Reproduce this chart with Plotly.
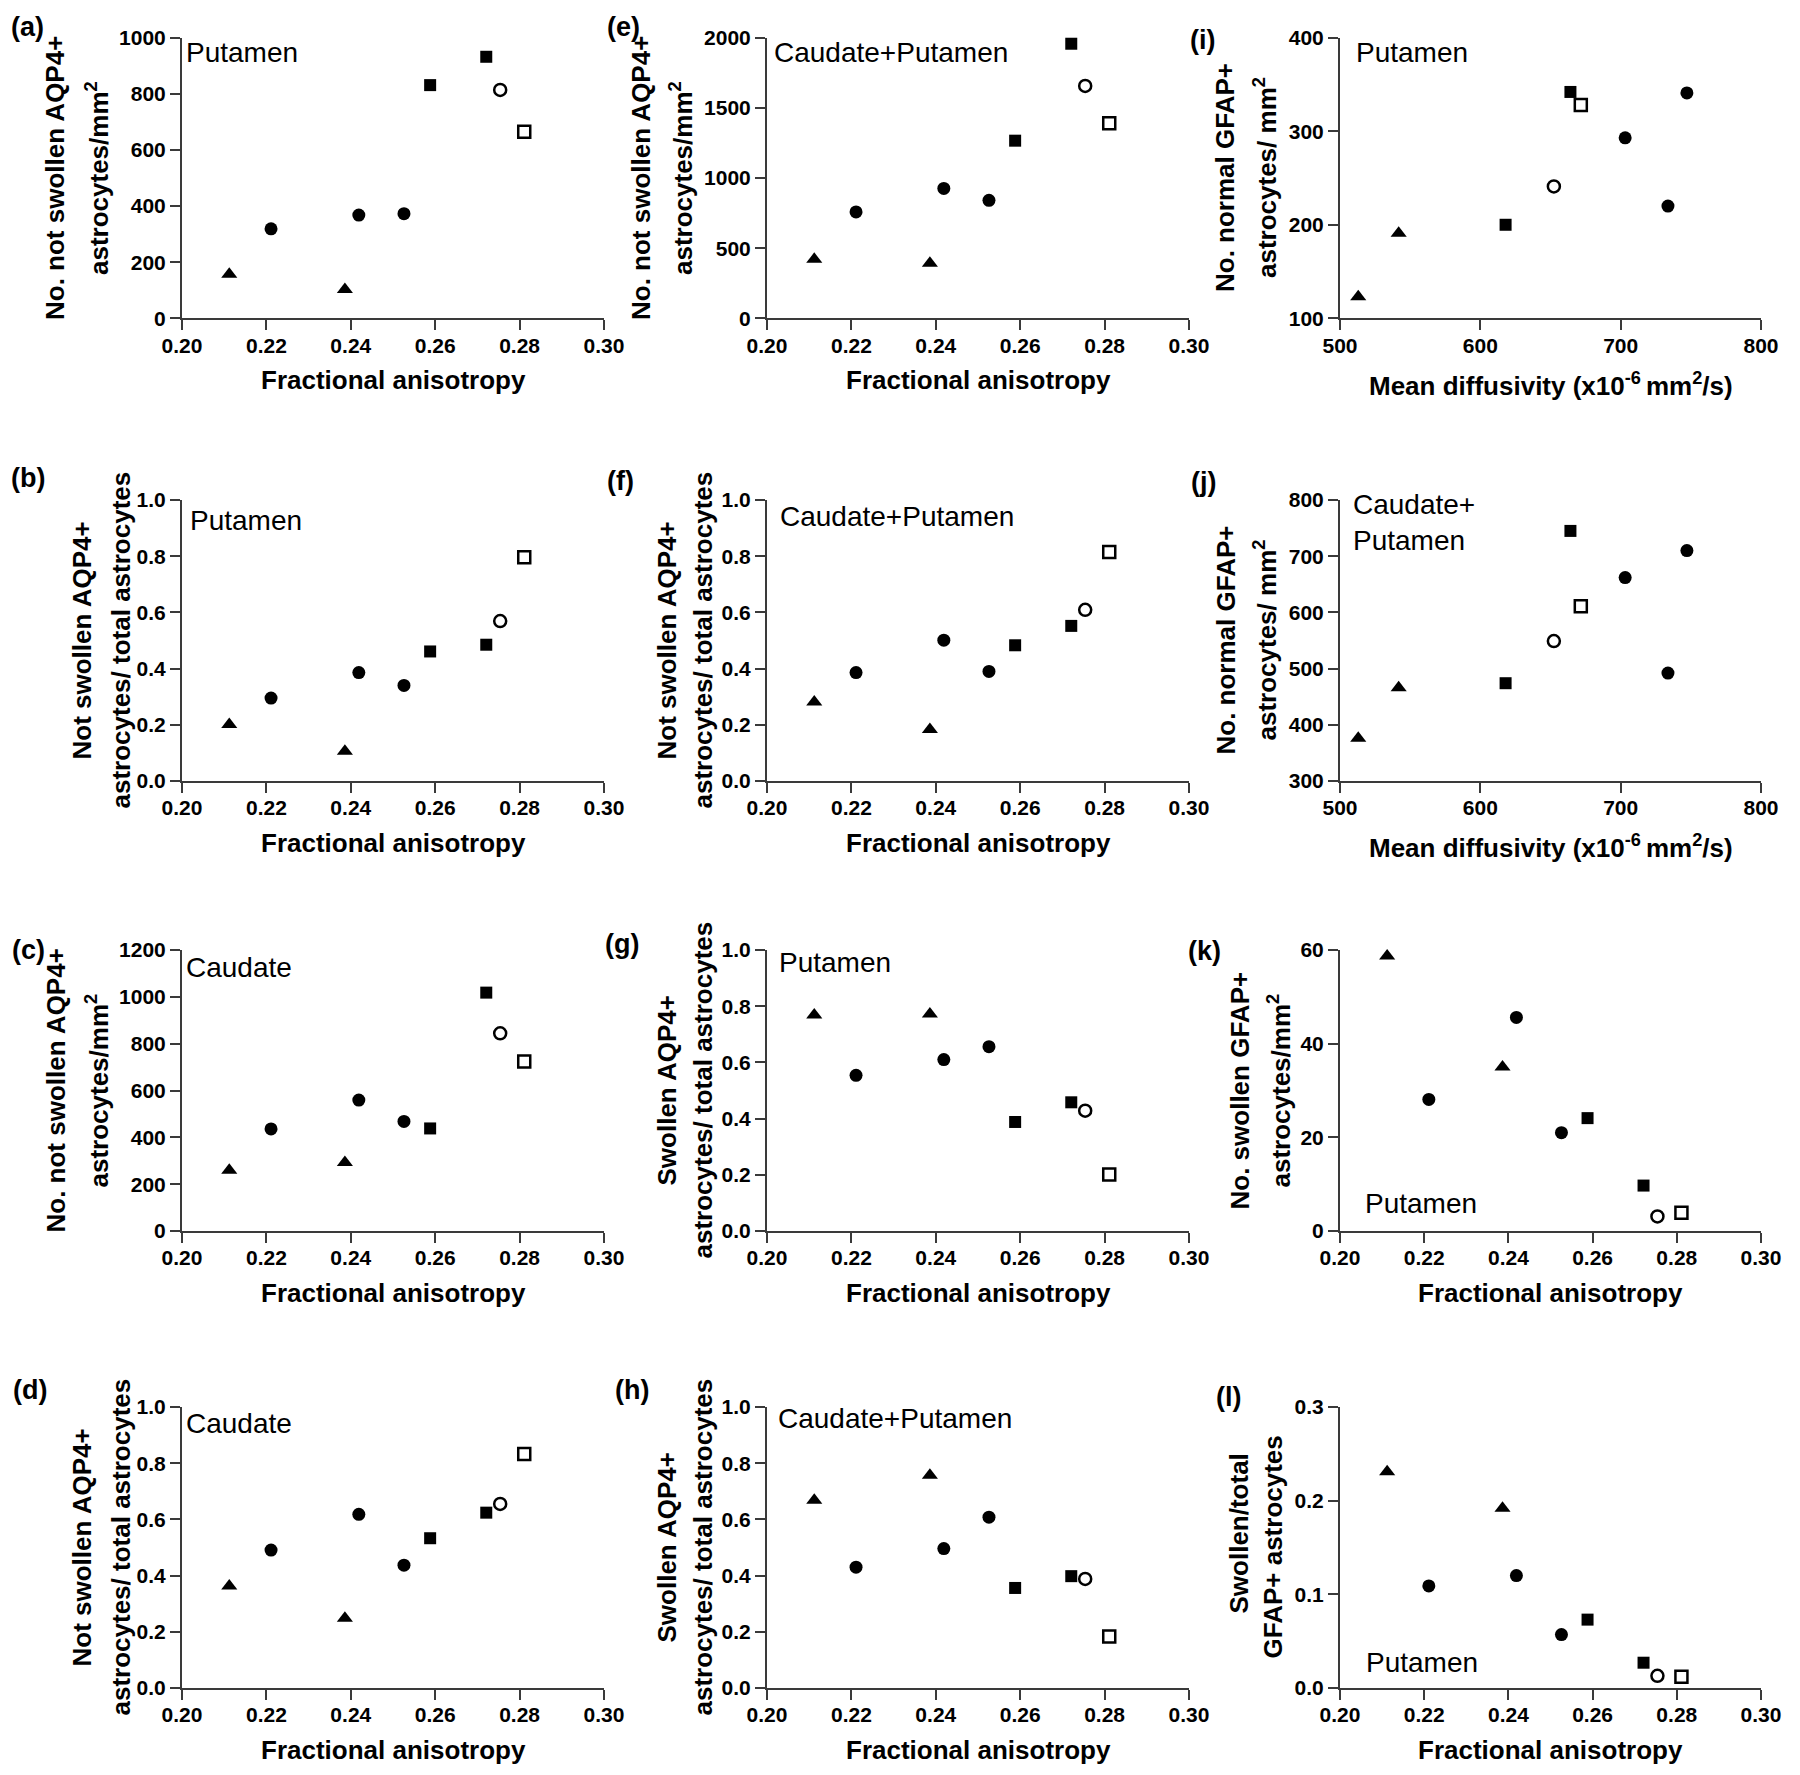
import plotly.graph_objects as go

W, H = 1800, 1775
PAGE_OFFSET = 8  # browser body margin shifts the whole figure; compensate

# ---------------- data (subject order: tri1, tri2, circ1, circ2, circ3, sq1, sq2, open-circ, open-sq)
fa = [0.2112, 0.2386, 0.2211, 0.2419, 0.2526, 0.2588, 0.2721, 0.2754, 0.2811]
md = [513.0, 541.8, 703.2, 733.7, 747.2, 618.0, 664.2, 652.4, 671.6]

a_put_notswollen = [157, 103, 319, 368, 373, 831, 932, 814, 665]
b_put_ratio = [0.201, 0.106, 0.295, 0.386, 0.340, 0.461, 0.485, 0.569, 0.796]
c_cau_notswollen = [259, 292, 436, 559, 468, 438, 1018, 844, 724]
d_cau_ratio = [0.363, 0.248, 0.491, 0.618, 0.437, 0.533, 0.624, 0.655, 0.833]
e_cp_notswollen = [420, 392, 758, 926, 841, 1266, 1957, 1656, 1390]
f_cp_ratio = [0.281, 0.183, 0.386, 0.501, 0.390, 0.483, 0.552, 0.609, 0.815]
g_put_swollen_ratio = [0.769, 0.772, 0.554, 0.610, 0.656, 0.388, 0.458, 0.428, 0.201]
h_cp_swollen_ratio = [0.668, 0.757, 0.430, 0.496, 0.608, 0.356, 0.398, 0.388, 0.183]
i_put_gfap_normal = [123, 191, 293, 220, 341, 200, 342, 241, 328]
j_cp_gfap_normal = [376, 466, 662, 492, 710, 474, 745, 549, 611]
k_put_gfap_swollen = [58.7, 35.0, 28.1, 45.6, 21.0, 24.1, 9.7, 3.1, 3.9]
l_put_gfap_ratio = [0.231, 0.192, 0.109, 0.120, 0.057, 0.073, 0.027, 0.013, 0.012]

groups = {
    "triangle": [0, 1],
    "circle": [2, 3, 4],
    "square": [5, 6],
    "open_circle": [7],
    "open_square": [8],
}

fa_ticks = [0.20, 0.22, 0.24, 0.26, 0.28, 0.30]
md_ticks = [500, 600, 700, 800]

# ---------------- layout geometry (pixels)
cols = {1: (182, 604), 2: (767, 1189), 3: (1340, 1761)}
rows = {1: (37.7, 318.3), 2: (500, 781), 3: (950, 1231), 4: (1407, 1688)}

FA_T = "Fractional anisotropy"
MD_T = "Mean diffusivity (x10<sup>-6 </sup>mm<sup>2</sup>/s)"

panels = [
    dict(lab="(a)", col=1, row=1, x=fa, y=a_put_notswollen, xr=[0.2, 0.3], yr=[0, 1000], yd=200, yf="d",
         yt=["No. not swollen AQP4+", "astrocytes/mm<sup>2</sup>"], yo=(-127, -84),
         reg="Putamen", rp=(184, 53), lp=(27, 21), xt=FA_T),
    dict(lab="(b)", col=1, row=2, x=fa, y=b_put_ratio, xr=[0.2, 0.3], yr=[0, 1], yd=0.2, yf=".1f",
         yt=["Not swollen AQP4+", "astrocytes/ total astrocytes"], yo=(-101, -62),
         reg="Putamen", rp=(188, 520), lp=(28, 478), xt=FA_T),
    dict(lab="(c)", col=1, row=3, x=fa, y=c_cau_notswollen, xr=[0.2, 0.3], yr=[0, 1200], yd=200, yf="d",
         yt=["No. not swollen AQP4+", "astrocytes/mm<sup>2</sup>"], yo=(-127, -84),
         reg="Caudate", rp=(184, 968), lp=(28, 950), xt=FA_T),
    dict(lab="(d)", col=1, row=4, x=fa, y=d_cau_ratio, xr=[0.2, 0.3], yr=[0, 1], yd=0.2, yf=".1f",
         yt=["Not swollen AQP4+", "astrocytes/ total astrocytes"], yo=(-101, -62),
         reg="Caudate", rp=(184, 1423), lp=(30, 1390), xt=FA_T),
    dict(lab="(e)", col=2, row=1, x=fa, y=e_cp_notswollen, xr=[0.2, 0.3], yr=[0, 2000], yd=500, yf="d",
         yt=["No. not swollen AQP4+", "astrocytes/mm<sup>2</sup>"], yo=(-126, -85),
         reg="Caudate+Putamen", rp=(772, 53), lp=(623, 21), xt=FA_T),
    dict(lab="(f)", col=2, row=2, x=fa, y=f_cp_ratio, xr=[0.2, 0.3], yr=[0, 1], yd=0.2, yf=".1f",
         yt=["Not swollen AQP4+", "astrocytes/ total astrocytes"], yo=(-101, -65),
         reg="Caudate+Putamen", rp=(778, 516), lp=(620, 481), xt=FA_T),
    dict(lab="(g)", col=2, row=3, x=fa, y=g_put_swollen_ratio, xr=[0.2, 0.3], yr=[0, 1], yd=0.2, yf=".1f",
         yt=["Swollen AQP4+", "astrocytes/ total astrocytes"], yo=(-101, -65),
         reg="Putamen", rp=(777, 962), lp=(622, 944), xt=FA_T),
    dict(lab="(h)", col=2, row=4, x=fa, y=h_cp_swollen_ratio, xr=[0.2, 0.3], yr=[0, 1], yd=0.2, yf=".1f",
         yt=["Swollen AQP4+", "astrocytes/ total astrocytes"], yo=(-101, -65),
         reg="Caudate+Putamen", rp=(776, 1418), lp=(632, 1390), xt=FA_T),
    dict(lab="(i)", col=3, row=1, x=md, y=i_put_gfap_normal, xr=[500, 800], yr=[100, 400], yd=100, yf="d",
         yt=["No. normal GFAP+", "astrocytes/ mm<sup>2</sup>"], yo=(-115, -74),
         reg="Putamen", rp=(1354, 53), lp=(1202, 40), xt=MD_T),
    dict(lab="(j)", col=3, row=2, x=md, y=j_cp_gfap_normal, xr=[500, 800], yr=[300, 800], yd=100, yf="d",
         yt=["No. normal GFAP+", "astrocytes/ mm<sup>2</sup>"], yo=(-115, -74),
         reg="Caudate+<br>Putamen", rp=(1351, 522), lp=(1203, 482), xt=MD_T),
    dict(lab="(k)", col=3, row=3, x=fa, y=k_put_gfap_swollen, xr=[0.2, 0.3], yr=[0, 60], yd=20, yf="d",
         yt=["No. swollen GFAP+", "astrocytes/mm<sup>2</sup>"], yo=(-101, -60),
         reg="Putamen", rp=(1363, 1203), lp=(1204, 951), xt=FA_T),
    dict(lab="(l)", col=3, row=4, x=fa, y=l_put_gfap_ratio, xr=[0.2, 0.3], yr=[0, 0.3], yd=0.1, yf=".1f",
         yt=["Swollen/total", "GFAP+ astrocytes"], yo=(-102, -68),
         reg="Putamen", rp=(1364, 1662), lp=(1228, 1397), xt=FA_T),
]

marker_styles = {
    "triangle": dict(symbol="triangle-up", size=14, color="black"),
    "circle": dict(symbol="circle", size=13, color="black"),
    "square": dict(symbol="square", size=12, color="black"),
    "open_circle": dict(symbol="circle-open", size=12, color="black", line=dict(width=2.5, color="black")),
    "open_square": dict(symbol="square-open", size=12, color="black", line=dict(width=2.5, color="black")),
}

FONT = "Liberation Sans, Arial, sans-serif"
AX = "#3a3a3a"

def px(xp):
    return (xp - PAGE_OFFSET) / W

def py(yp):
    return 1 - (yp - PAGE_OFFSET) / H

fig = go.Figure()
layout = dict(width=W, height=H, autosize=False,
              margin=dict(l=0, r=0, t=0, b=0, pad=0, autoexpand=False),
              paper_bgcolor="white", plot_bgcolor="white", showlegend=False)
annotations = []

for n, p in enumerate(panels, start=1):
    x0, x1 = cols[p["col"]]
    y0, y1 = rows[p["row"]]
    xa = "x" if n == 1 else f"x{n}"
    ya = "y" if n == 1 else f"y{n}"
    is_md = p["x"] is md
    common = dict(showline=True, linecolor=AX, linewidth=2, ticks="outside", ticklen=10,
                  tickwidth=2, tickcolor=AX, showgrid=False, zeroline=False, fixedrange=True,
                  automargin=False,
                  tickfont=dict(family=FONT, size=21, color="black", weight="bold"))
    layout["xaxis" if n == 1 else f"xaxis{n}"] = dict(
        common, domain=[px(x0), px(x1)], anchor=ya, range=p["xr"],
        tickmode="array", tickvals=md_ticks if is_md else fa_ticks,
        tickformat="d" if is_md else ".2f", ticklabelstandoff=-3)
    layout["yaxis" if n == 1 else f"yaxis{n}"] = dict(
        common, domain=[py(y1), py(y0)], anchor=xa, range=p["yr"],
        tick0=p["yr"][0], dtick=p["yd"], tickformat=p["yf"])
    for g, idx in groups.items():
        fig.add_trace(go.Scatter(
            x=[p["x"][i] for i in idx], y=[p["y"][i] for i in idx],
            mode="markers", marker=marker_styles[g], xaxis=xa, yaxis=ya,
            cliponaxis=False, hoverinfo="x+y"))
    # y-axis title (two lines)
    yc = (y0 + y1) / 2
    for k, line in enumerate(p["yt"]):
        yl = yc
        if p["lab"] == "(l)" and k == 0:
            yl = yc - 14
        annotations.append(dict(text=line, x=px(x0 + p["yo"][k]), y=py(yl), xref="paper", yref="paper",
                                xanchor="center", yanchor="middle", textangle=-90, showarrow=False,
                                font=dict(family=FONT, size=26, color="black", weight="bold")))
    # x-axis title
    annotations.append(dict(text=p["xt"], x=px((x0 + x1) / 2), y=py(y1 + (66 if is_md else 62)),
                            xref="paper", yref="paper", xanchor="center", yanchor="middle",
                            showarrow=False, font=dict(family=FONT, size=26, color="black", weight="bold")))
    # panel letter (kept inside the top edge of the figure)
    ly = max(p["lp"][1], PAGE_OFFSET + 19)
    annotations.append(dict(text=p["lab"], x=px(p["lp"][0]), y=py(ly), xref="paper", yref="paper",
                            xanchor="center", yanchor="middle", showarrow=False,
                            font=dict(family=FONT, size=27, color="black", weight="bold")))
    # region label
    annotations.append(dict(text=p["reg"], x=px(p["rp"][0]), y=py(p["rp"][1]), xref="paper", yref="paper",
                            xanchor="left", yanchor="middle", align="left", showarrow=False,
                            font=dict(family=FONT, size=28, color="black")))

layout["annotations"] = annotations
fig.update_layout(**layout)
fig.write_html("out.html")
